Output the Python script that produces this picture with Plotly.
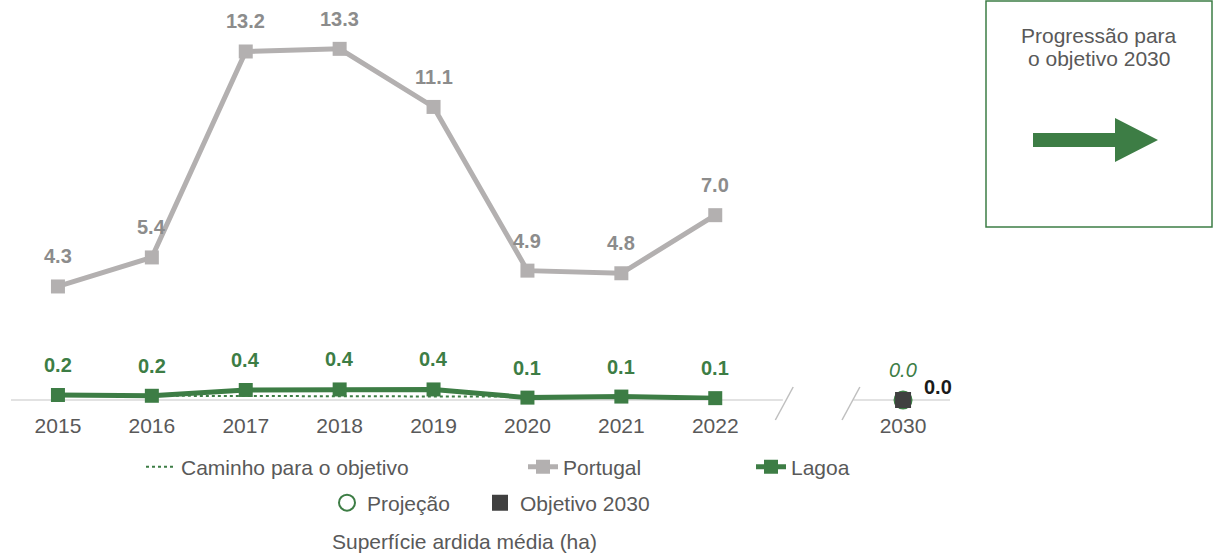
import plotly.graph_objects as go

# dados
anos = ["2015", "2016", "2017", "2018", "2019", "2020", "2021", "2022"]
categorias = anos + [" ", "2030"]  # espaco vazio = quebra do eixo
portugal = [4.3, 5.4, 13.2, 13.3, 11.1, 4.9, 4.8, 7.0]
lagoa = [0.19, 0.16, 0.38, 0.40, 0.40, 0.09, 0.13, 0.07]
caminho_anos = ["2016", "2017", "2018", "2019", "2020", "2021", "2022"]
caminho = [0.16, 0.15, 0.15, 0.14, 0.13, 0.12, 0.11]
ano_objetivo = ["2030"]
projecao = [0.0]
objetivo = [0.0]

verde = "#3D7D45"
cinza_linha = "#B3B0B0"
cinza_texto = "#8C8C8C"
texto = "#595959"
fonte = "Liberation Sans, Arial, sans-serif"

# pixeis -> coordenadas paper (area do grafico: x 11..950, y 0..400)
def px(x):
    return (x - 11) / 939.0

def py(y):
    return (400 - y) / 400.0

def pos(ano):
    # posicao numerica da categoria (para anotacoes)
    return categorias.index(ano)

fig = go.Figure()

fig.add_trace(go.Scatter(
    x=caminho_anos, y=caminho, name="Caminho para o objetivo",
    mode="lines", line=dict(color=verde, width=2, dash="dot"),
    legend="legend", cliponaxis=False))

fig.add_trace(go.Scatter(
    x=anos, y=portugal, name="Portugal", mode="lines+markers",
    line=dict(color=cinza_linha, width=5),
    marker=dict(symbol="square", size=14, color=cinza_linha),
    legend="legend2", cliponaxis=False))

fig.add_trace(go.Scatter(
    x=anos, y=lagoa, name="Lagoa", mode="lines+markers",
    line=dict(color=verde, width=5),
    marker=dict(symbol="square", size=14, color=verde),
    legend="legend3", cliponaxis=False))

fig.add_trace(go.Scatter(
    x=ano_objetivo, y=projecao, name="Projeção", mode="markers",
    marker=dict(symbol="circle-open", size=17, color=verde, line=dict(width=2)),
    legend="legend4", cliponaxis=False))

fig.add_trace(go.Scatter(
    x=ano_objetivo, y=objetivo, name="Objetivo 2030", mode="markers",
    marker=dict(symbol="square", size=16, color="#404040"),
    legend="legend5", cliponaxis=False))

# rotulos dos valores
anotacoes = []
for a, v in zip(anos, portugal):
    anotacoes.append(dict(x=pos(a), y=v, text=f"{v:.1f}", showarrow=False, yshift=30,
                          font=dict(size=20, color=cinza_texto, family=fonte, weight="bold")))
for a, v in zip(anos, lagoa):
    anotacoes.append(dict(x=pos(a), y=v, text=f"{v:.1f}", showarrow=False, yshift=30,
                          font=dict(size=20, color=verde, family=fonte, weight="bold")))
anotacoes.append(dict(x=pos(ano_objetivo[0]), y=projecao[0], text=f"{projecao[0]:.1f}", showarrow=False,
                      yshift=30, font=dict(size=20, color=verde, family=fonte, style="italic")))
anotacoes.append(dict(x=pos(ano_objetivo[0]), y=objetivo[0], text=f"{objetivo[0]:.1f}", showarrow=False,
                      xshift=35, yshift=13, font=dict(size=20, color="#1A1A1A", family=fonte, weight="bold")))
# caixa da direita
for linha, yy in [("Progressão para", 35), ("o objetivo 2030", 58)]:
    anotacoes.append(dict(xref="paper", yref="paper", x=px(1099), y=py(yy),
                          xanchor="center", yanchor="middle", text=linha, showarrow=False,
                          font=dict(size=21, color=texto, family=fonte)))
# titulo em baixo
anotacoes.append(dict(xref="paper", yref="paper", x=px(464), y=py(541),
                      xanchor="center", yanchor="middle",
                      text="Superfície ardida média (ha)", showarrow=False,
                      font=dict(size=21, color=texto, family=fonte)))

seta = [(1033, 133), (1115, 133), (1115, 118), (1158, 140), (1115, 162), (1115, 147), (1033, 147)]
caminho_seta = "M " + " L ".join(f"{px(x)},{py(y)}" for x, y in seta) + " Z"

formas = [
    # eixo x partido
    dict(type="line", xref="x", yref="paper", x0=-0.5, x1=7.72, y0=0, y1=0,
         line=dict(color="#D9D9D9", width=1.5), layer="below"),
    dict(type="line", xref="x", yref="paper", x0=8.47, x1=9.5, y0=0, y1=0,
         line=dict(color="#D9D9D9", width=1.5), layer="below"),
    dict(type="line", xref="x", yref="paper", x0=7.64, x1=7.83, y0=py(420), y1=py(387),
         line=dict(color="#BFBFBF", width=1.5)),
    dict(type="line", xref="x", yref="paper", x0=8.35, x1=8.54, y0=py(420), y1=py(387),
         line=dict(color="#BFBFBF", width=1.5)),
    # caixa
    dict(type="rect", xref="paper", yref="paper", x0=px(986), x1=px(1212), y0=py(227), y1=py(1),
         line=dict(color=verde, width=1.5)),
    dict(type="path", xref="paper", yref="paper", path=caminho_seta,
         fillcolor=verde, line=dict(width=0)),
]

def legenda(x_px, y_px):
    return dict(orientation="h", xref="container", yref="container",
                x=x_px / 1214.0, y=1 - y_px / 553.0, xanchor="left", yanchor="middle",
                bgcolor="rgba(0,0,0,0)", font=dict(size=21, color=texto, family=fonte))

fig.update_layout(
    width=1214, height=553,
    margin=dict(l=11, r=264, t=0, b=153),
    plot_bgcolor="white", paper_bgcolor="white",
    font=dict(family=fonte, size=21, color=texto),
    showlegend=True,
    xaxis=dict(type="category", categoryorder="array", categoryarray=categorias,
               range=[-0.5, 9.5], showgrid=False, zeroline=False, showline=False,
               ticks="", ticklabelstandoff=11, tickfont=dict(size=21, color=texto)),
    yaxis=dict(range=[0, 15.15], visible=False),
    legend=legenda(141, 467),
    legend2=legenda(523, 467),
    legend3=legenda(751, 467),
    legend4=legenda(327, 503),
    legend5=legenda(480, 503),
    annotations=anotacoes,
    shapes=formas,
)

# sem margem no body da pagina
fig.write_html("out.html", config={"displayModeBar": False},
               post_script="document.body.style.margin='0';")
